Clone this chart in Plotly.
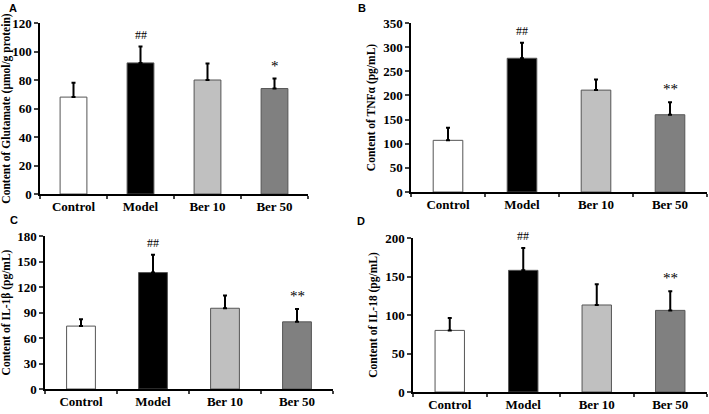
import plotly.graph_objects as go

groups = ["Control", "Model", "Ber 10", "Ber 50"]
bar_colors = ["#ffffff", "#000000", "#c0c0c0", "#808080"]

# panel values (mean, upper SD)
glu_mean = [68, 92, 80, 74]
glu_sd = [10, 11.5, 11.5, 7]
tnf_mean = [107, 277, 211, 160]
tnf_sd = [26, 32, 22, 26]
il1b_mean = [74, 137, 95, 79]
il1b_sd = [8, 21, 15, 15]
il18_mean = [80, 158, 113, 106]
il18_sd = [16, 29, 27, 25]

sig_glu = ["", "##", "", "*"]
sig_tnf = ["", "##", "", "**"]
sig_il1b = ["", "##", "", "**"]
sig_il18 = ["", "##", "", "**"]

W, H = 709, 414

panels = [
    # letter, mean, sd, sig, title, range, dtick, domain px (x0, x1, ytop, ybottom)
    ("A", glu_mean, glu_sd, sig_glu, "Content of Glutamate (μmol/g protein)", 120, 20, (40, 308, 23, 194)),
    ("B", tnf_mean, tnf_sd, sig_tnf, "Content of TNFα (pg/mL)", 350, 50, (411, 707, 23, 192)),
    ("C", il1b_mean, il1b_sd, sig_il1b, "Content of IL-1β (pg/mL)", 180, 30, (45, 333, 236, 389)),
    ("D", il18_mean, il18_sd, sig_il18, "Content of IL-18 (pg/mL)", 200, 50, (413, 707, 238, 392)),
]

serif = "Liberation Serif, Times New Roman, serif"

fig = go.Figure()
annotations = []

for i, (letter, mean, sd, sig, title, ymax, dtick, (x0, x1, yt, yb)) in enumerate(panels):
    n = "" if i == 0 else str(i + 1)
    xa, ya = "x" + n, "y" + n
    fig.add_trace(go.Bar(
        x=groups, y=mean, width=0.4,
        marker=dict(color=bar_colors, line=dict(color="#555555", width=1)),
        error_y=dict(type="data", symmetric=False, array=sd, arrayminus=[0] * 4,
                     color="#000000", thickness=2, width=2),
        xaxis=xa, yaxis=ya, showlegend=False,
    ))
    yvals = list(range(0, ymax + 1, dtick))
    fig.update_layout(**{
        "xaxis" + n: dict(
            domain=[x0 / W, x1 / W], anchor=ya, type="category", automargin=False,
            tickson="boundaries", ticks="outside", ticklen=3, tickwidth=1.5,
            showline=True, linecolor="#000000", linewidth=1.5,
            showgrid=False, zeroline=False,
            tickfont=dict(family=serif, size=13, color="#000000", weight="bold"),
        ),
        "yaxis" + n: dict(
            domain=[1 - yb / H, 1 - yt / H], anchor=xa, range=[0, ymax], automargin=False,
            tickvals=yvals, ticktext=["<b>%d</b>" % v for v in yvals],
            ticks="outside", ticklen=4, tickwidth=1.5,
            showline=True, linecolor="#000000", linewidth=1.5,
            showgrid=False, zeroline=False,
            tickfont=dict(family=serif, size=13, color="#000000"),
            title=dict(text="<b>" + title + "</b>", standoff=5,
                       font=dict(family=serif, size=11.5, color="#000000")),
        ),
    })
    for g, m, s, t in zip(groups, mean, sd, sig):
        if t:
            annotations.append(dict(
                x=g, y=m + s, xref=xa, yref=ya, text=t, showarrow=False,
                yanchor="bottom", yshift=3,
                font=dict(family=serif, size=12 if t == "##" else 15, color="#000000"),
            ))
    letter_pos = {"A": (13, 8), "B": (362, 8), "C": (14, 220), "D": (361, 221)}[letter]
    annotations.append(dict(
        x=letter_pos[0] / W, y=1 - letter_pos[1] / H, xref="paper", yref="paper",
        text="<b>" + letter + "</b>", showarrow=False, xanchor="center", yanchor="middle",
        font=dict(family="Liberation Sans, Arial, sans-serif", size=11, color="#000000"),
    ))

fig.update_layout(
    width=W, height=H,
    margin=dict(l=0, r=0, t=0, b=0),
    paper_bgcolor="#ffffff", plot_bgcolor="#ffffff",
    annotations=annotations,
    bargap=0.6,
)

# the page body has a default 8px margin; drop it so the figure sits at the corner
fig.write_html("out.html", config={"displayModeBar": False},
               post_script="document.body.style.margin = '0';")
